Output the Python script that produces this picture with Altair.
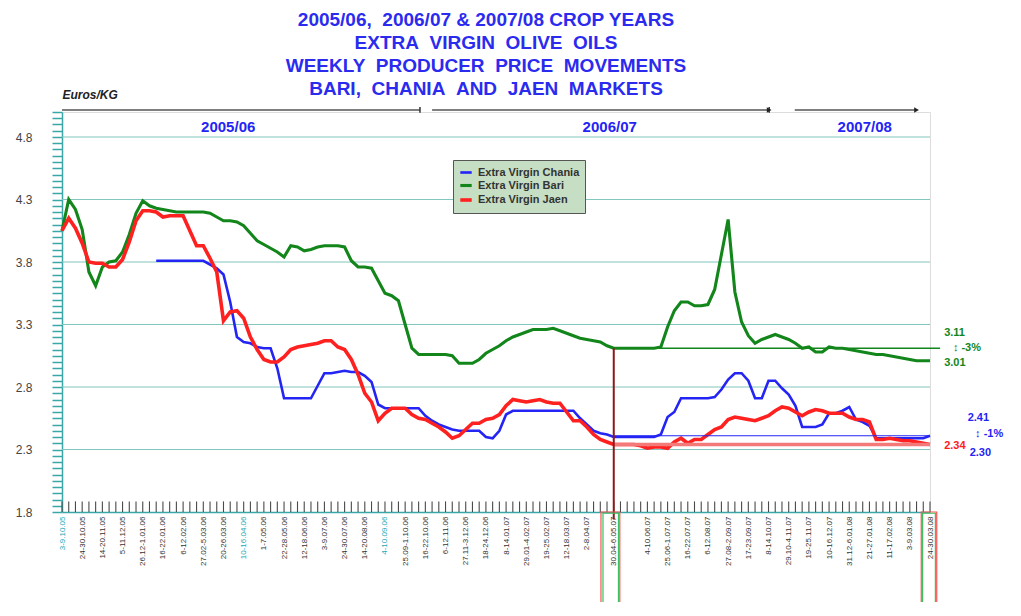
import datetime as dt
import altair as alt
import pandas as pd

# ---------------- data ----------------
SERIES = ["Extra Virgin Chania", "Extra Virgin Bari", "Extra Virgin Jaen"]
COLORS = ["#2424f5", "#13861b", "#ff2020"]
WIDTHS = [2.6, 3.6, 2.6]

first_monday = dt.date(2005, 10, 3)
n_weeks = 130

bari = [4.05, 4.30, 4.22, 4.06, 3.72, 3.61, 3.76, 3.80, 3.81, 3.88,
        4.02, 4.19, 4.29, 4.25, 4.23, 4.22, 4.21, 4.20, 4.20, 4.20,
        4.20, 4.20, 4.19, 4.16, 4.13, 4.13, 4.12, 4.09, 4.03, 3.97,
        3.94, 3.91, 3.88, 3.84, 3.93, 3.92, 3.89, 3.90, 3.92, 3.93,
        3.93, 3.93, 3.92, 3.81, 3.76, 3.76, 3.75, 3.65, 3.55, 3.53,
        3.49, 3.30, 3.11, 3.06, 3.06, 3.06, 3.06, 3.06, 3.05, 2.99,
        2.99, 2.99, 3.02, 3.07, 3.10, 3.13, 3.17, 3.20, 3.22, 3.24,
        3.26, 3.26, 3.26, 3.27, 3.25, 3.23, 3.21, 3.19, 3.18, 3.17,
        3.16, 3.13, 3.11, 3.11, 3.11, 3.11, 3.11, 3.11, 3.11, 3.12,
        3.28, 3.41, 3.48, 3.48, 3.45, 3.45, 3.46, 3.58, 3.86, 4.14,
        3.56, 3.32, 3.21, 3.15, 3.18, 3.20, 3.22, 3.20, 3.18, 3.15,
        3.11, 3.12, 3.08, 3.08, 3.12, 3.11, 3.11, 3.10, 3.09, 3.08,
        3.07, 3.06, 3.06, 3.05, 3.04, 3.03, 3.02, 3.01, 3.01, 3.01]

jaen = [4.05, 4.15, 4.07, 3.95, 3.80, 3.79, 3.79, 3.76, 3.76, 3.82,
        3.96, 4.13, 4.21, 4.21, 4.20, 4.16, 4.17, 4.17, 4.17, 4.05,
        3.93, 3.93, 3.83, 3.72, 3.33, 3.40, 3.41, 3.35, 3.20, 3.10,
        3.02, 3.00, 3.00, 3.04, 3.10, 3.12, 3.13, 3.14, 3.15, 3.17,
        3.17, 3.12, 3.10, 3.02, 2.90, 2.75, 2.68, 2.53, 2.59, 2.63,
        2.63, 2.63, 2.58, 2.55, 2.54, 2.51, 2.48, 2.44, 2.39, 2.41,
        2.46, 2.51, 2.51, 2.54, 2.55, 2.58, 2.65, 2.70, 2.69, 2.68,
        2.69, 2.70, 2.68, 2.67, 2.67, 2.60, 2.53, 2.53, 2.48, 2.42,
        2.38, 2.36, 2.34, 2.34, 2.34, 2.34, 2.33, 2.31, 2.32, 2.32,
        2.31, 2.36, 2.39, 2.35, 2.38, 2.38, 2.42, 2.46, 2.48, 2.54,
        2.56, 2.55, 2.54, 2.53, 2.55, 2.57, 2.61, 2.64, 2.63, 2.60,
        2.57, 2.60, 2.62, 2.61, 2.59, 2.59, 2.59, 2.56, 2.54, 2.54,
        2.52, 2.38, 2.38, 2.39, 2.38, 2.37, 2.37, 2.36, 2.35, 2.34]

chania = [None] * 14 + [
        3.81, 3.81, 3.81, 3.81, 3.81, 3.81, 3.81, 3.81, 3.78, 3.75,
        3.70, 3.48, 3.20, 3.16, 3.15, 3.12, 3.11, 3.11, 2.95, 2.71,
        2.71, 2.71, 2.71, 2.71, 2.81, 2.91, 2.91, 2.92, 2.93, 2.92,
        2.92, 2.89, 2.84, 2.66, 2.63, 2.63, 2.63, 2.63, 2.63, 2.63,
        2.57, 2.53, 2.50, 2.48, 2.46, 2.45, 2.45, 2.45, 2.45, 2.40,
        2.39, 2.45, 2.58, 2.61, 2.61, 2.61, 2.61, 2.61, 2.61, 2.61,
        2.61, 2.61, 2.61, 2.55, 2.50, 2.45, 2.43, 2.42, 2.40, 2.40,
        2.40, 2.40, 2.40, 2.40, 2.40, 2.42, 2.56, 2.60, 2.71, 2.71,
        2.71, 2.71, 2.71, 2.72, 2.78, 2.86, 2.91, 2.91, 2.85, 2.71,
        2.71, 2.85, 2.85, 2.79, 2.74, 2.65, 2.48, 2.48, 2.48, 2.50,
        2.59, 2.59, 2.61, 2.64, 2.54, 2.52, 2.49, 2.39, 2.39, 2.39,
        2.39, 2.39, 2.39, 2.39, 2.39, 2.41]

y_major = [1.8, 2.3, 2.8, 3.3, 3.8, 4.3, 4.8]
y_ticks = [round(1.8 + 0.05 * k, 2) for k in range(65)]

cyan_label_weeks = [0, 27, 48]
comparison_week = 82
last_week = 129

crop_years = ["2005/06", "2006/07", "2007/08"]
crop_start = [0, 55.0, 108.9]
crop_end = [53.2, 105.1, 127.0]
crop_label_week = [24.7, 81.4, 119.3]

ref_value = [3.11, 2.41, 2.34]
ref_end = [130.5, 129, 129]
ref_color = ["#13861b", "#2424f5", "#f47a7a"]
ref_width = [1.5, 1.2, 3.5]

ann_text = ["3.11", "\u2195 -3%", "3.01", "2.41", "\u2195 -1%", "2.30", "2.34"]
ann_week = [131.1, 132.4, 131.1, 134.6, 135.7, 134.9, 131.1]
ann_value = [3.232, 3.112, 2.992, 2.552, 2.424, 2.272, 2.328]
ann_color = ["#13861b", "#13861b", "#13861b", "#2424f5", "#2424f5", "#2424f5", "#ff2020"]

# --------------- week labels ---------------
week_labels = []
for i in range(n_weeks):
    a = first_monday + dt.timedelta(days=7 * i)
    b = a + dt.timedelta(days=6)
    if a.month == b.month:
        s = f"{a.day}-{b.day}.{b.month:02d}.{b.year % 100:02d}"
    else:
        s = f"{a.day}.{a.month:02d}-{b.day}.{b.month:02d}.{b.year % 100:02d}"
    week_labels.append(s)

shown = []
for i in range(n_weeks):
    ok = (i % 3 == 0 and i not in (81, 84)) or i == comparison_week
    shown.append(week_labels[i] if ok else "")
label_expr = "[" + ",".join("'" + s + "'" for s in shown) + "][datum.value]"

# --------------- frames ---------------
rows = []
for name, vals in zip(SERIES, [chania, bari, jaen]):
    for i, v in enumerate(vals):
        if v is not None:
            rows.append({"week": i, "series": name, "value": v})
df = pd.DataFrame(rows)

BG = "#c6dfc4"
TEAL = "#3aa6a6"
GRID = "#82c6bf"
FONT = "Liberation Sans"

x_scale = alt.Scale(domain=[0, last_week], nice=False, zero=False)
y_scale = alt.Scale(domain=[1.8, 5.0], nice=False, zero=False)

x_axis = alt.Axis(
    values=list(range(n_weeks)), labelExpr=label_expr, labelAngle=-90,
    labelFontSize=8, labelFont=FONT, labelPadding=4, labelOverlap=False,
    ticks=False, grid=False, domainColor=TEAL, domainWidth=1.5, title=None,
    labelColor={"condition": {"test": "indexof(" + str(cyan_label_weeks) + ", datum.value) >= 0",
                              "value": "#1ba8b8"}, "value": "#333333"},
)
y_axis = alt.Axis(
    values=y_ticks,
    labelExpr="abs((datum.value-1.8)/0.5 - round((datum.value-1.8)/0.5)) < 0.01 ? format(datum.value, '.1f') : ''",
    labelOverlap=False, grid=False, tickColor=TEAL, tickSize=10, tickWidth=1.5,
    domainColor=TEAL, domainWidth=1.5, labelPadding=20, labelFontSize=12,
    labelFont=FONT, labelColor="#444444",
    title="Euros/KG", titleAngle=0, titleAlign="left", titleX=0, titleY=-11,
    titleBaseline="bottom", titleFontStyle="italic", titleFontWeight="bold",
    titleFontSize=12, titleFont=FONT, titleColor="#222222",
)


def X(f):
    return alt.X(f, scale=x_scale, axis=x_axis)


def Y(f):
    return alt.Y(f, scale=y_scale, axis=y_axis)


grid = alt.Chart(pd.DataFrame({"g": y_major[1:], "x0": [0] * 6, "x1": [last_week] * 6})).mark_rule(
    color=GRID, strokeWidth=1).encode(x=X("x0:Q"), x2="x1:Q", y=Y("g:Q"))

wticks = alt.Chart(pd.DataFrame({"week": list(range(n_weeks)),
                                 "y0": [1.8] * n_weeks, "y1": [1.885] * n_weeks})).mark_rule(
    color="#4a4a4a", strokeWidth=1.1).encode(x=X("week:Q"), y=Y("y0:Q"), y2="y1:Q")

lines = alt.Chart(df).mark_line().encode(
    x=X("week:Q"),
    y=Y("value:Q"),
    color=alt.Color("series:N", scale=alt.Scale(domain=SERIES, range=COLORS),
                    legend=alt.Legend(title=None, orient="none", legendX=391, legendY=48,
                                      direction="vertical", symbolType="stroke",
                                      symbolStrokeWidth=3, symbolSize=130,
                                      labelFontSize=11, labelFontWeight="bold",
                                      labelColor="#333333", labelFont=FONT,
                                      strokeColor="#555555", fillColor=BG,
                                      padding=5, rowPadding=0, labelLimit=200)),
    strokeWidth=alt.StrokeWidth("series:N", scale=alt.Scale(domain=SERIES, range=WIDTHS),
                                legend=None),
)

ref_df = pd.DataFrame({"v": ref_value, "start": [comparison_week] * 3, "end": ref_end,
                       "c": ref_color, "w": ref_width})
refs = alt.Chart(ref_df).mark_rule().encode(
    x=X("start:Q"), x2="end:Q", y=Y("v:Q"),
    color=alt.Color("c:N", scale=None), strokeWidth=alt.StrokeWidth("w:Q", scale=None))

vline = alt.Chart(pd.DataFrame({"week": [comparison_week], "y0": [3.11], "y1": [1.74]})).mark_rule(
    color="#8b1a1a", strokeWidth=2).encode(x=X("week:Q"), y=Y("y0:Q"), y2="y1:Q")

box_df = pd.DataFrame({
    "x1": [80.1, 80.4, 127.7, 127.9], "x2": [82.9, 82.7, 130.0, 129.8],
    "y1": [1.80, 1.79, 1.80, 1.79], "y2": [1.04, 0.99, 1.05, 0.99],
    "c": ["#ff5050", "#3cc060", "#ff5050", "#3cc060"]})
boxes = alt.Chart(box_df).mark_rect(fillOpacity=0, strokeWidth=1.2).encode(
    x=X("x1:Q"), x2="x2:Q", y=Y("y1:Q"), y2="y2:Q",
    stroke=alt.Stroke("c:N", scale=None))

crop_df = pd.DataFrame({"year": crop_years, "s": crop_start, "e": crop_end,
                        "m": crop_label_week, "ly": [5.016] * 3,
                        "t0": [4.995] * 3, "t1": [5.04] * 3, "yy": [4.88] * 3})
top_line = alt.Chart(crop_df).mark_rule(color="#555555", strokeWidth=1.5).encode(
    x=X("s:Q"), x2="e:Q", y=Y("ly:Q"))
top_marks = alt.Chart(crop_df.iloc[:2]).mark_rule(color="#333333", strokeWidth=1.5).encode(
    x=X("e:Q"), y=Y("t0:Q"), y2="t1:Q")
top_arrows = alt.Chart(crop_df.iloc[1:]).mark_point(
    shape="triangle-right", filled=True, color="#222222", size=30, opacity=1).encode(
    x=X("e:Q"), y=Y("ly:Q"))
year_text = alt.Chart(crop_df).mark_text(
    color="#2424f5", fontSize=15, fontWeight="bold", font=FONT).encode(
    x=X("m:Q"), y=Y("yy:Q"), text="year:N")

ann_df = pd.DataFrame({"t": ann_text, "w": ann_week, "v": ann_value, "c": ann_color})
ann = alt.Chart(ann_df).mark_text(align="left", baseline="middle", fontSize=11,
                                  fontWeight="bold", font=FONT).encode(
    x=X("w:Q"), y=Y("v:Q"), text="t:N", color=alt.Color("c:N", scale=None))

NB = "\u00a0"
title_lines = [
    f"2005/06,{NB}{NB}2006/07 & 2007/08 CROP YEARS",
    f"EXTRA{NB}{NB}VIRGIN{NB}{NB}OLIVE{NB}{NB}OILS",
    f"WEEKLY{NB}{NB}PRODUCER{NB}{NB}PRICE{NB}{NB}MOVEMENTS",
    f"BARI,{NB}{NB}CHANIA{NB}{NB}AND{NB}{NB}JAEN{NB}{NB}MARKETS",
]

chart = alt.layer(
    grid, wticks, lines, refs, vline, boxes, top_line, top_marks, top_arrows, year_text, ann
).properties(
    width=868, height=400,
    padding={"left": 54, "top": 104, "right": 80, "bottom": 90},
    autosize=alt.AutoSizeParams(type="none"),
    title=alt.TitleParams(text=title_lines, fontSize=19, fontWeight="bold",
                          color="#2b2bf0", font=FONT, lineHeight=23,
                          anchor="middle", offset=4, dx=-10, dy=15),
).configure_view(fill=BG, stroke=TEAL, strokeWidth=1.5).configure(background="white")

chart.save("out.html", embed_options={"renderer": "svg", "actions": False})
